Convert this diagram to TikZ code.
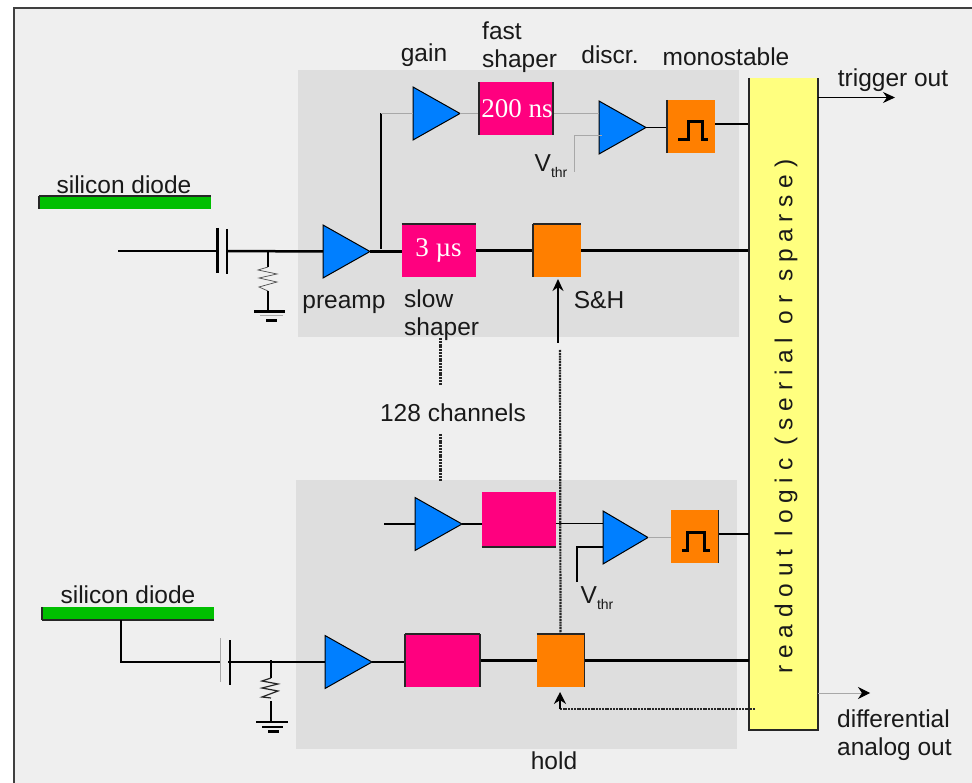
\documentclass[tikz,border=0pt]{standalone}
\usepackage{fontspec}
\setmainfont{Liberation Sans}
\newfontfamily\timesfont{Liberation Serif}
\usetikzlibrary{shapes.geometric, arrows.meta}
\definecolor{Panel}{HTML}{dedede}
\definecolor{Back}{HTML}{efefef}
\definecolor{Frame}{HTML}{404040}
\definecolor{Pink}{HTML}{ff007f}
\definecolor{Orange}{HTML}{ff7f00}
\definecolor{Blue}{HTML}{007fff}
\definecolor{Green}{HTML}{00bf00}
\definecolor{Yellow}{HTML}{ffff7f}
\definecolor{Wire}{HTML}{a8a8a8}

\tikzset{
  label/.style={font=\fontsize{24.5}{28}\selectfont, inner sep=0pt, text=black!90},
  amp/.style={isosceles triangle, isosceles triangle apex angle=60, isosceles triangle stretches,
    minimum width=53pt, minimum height=47pt, inner sep=0pt, outer sep=0pt,
    fill=Blue, draw=black, line width=1pt, anchor=lower side},
  shaper/.style={fill=Pink, minimum width=74pt, minimum height=53pt, inner sep=0pt, outer sep=0pt,
    text=white, font=\timesfont\fontsize{27}{30}\selectfont},
  holdbox/.style={fill=Orange, minimum width=48pt, minimum height=53pt, inner sep=0pt, outer sep=0pt},
  diode/.style={fill=Green, minimum width=172pt, minimum height=13pt, inner sep=0pt, outer sep=0pt},
  thick wire/.style={line width=2.5pt},
  thin wire/.style={line width=1.3pt},
  grey wire/.style={line width=1pt, Wire},
  edge/.style={line width=1.3pt, black!85},
  chan/.style={dash pattern=on 2pt off 0.8pt, line width=2.2pt, black!85},
  pulse/.style={line width=3pt, black}
}

\begin{document}
\begin{tikzpicture}[x=1pt,y=-1pt,>={Stealth[length=12pt,width=11pt]}]
\useasboundingbox (0,0) rectangle (972,783);

\fill[white] (0,0) rectangle (972,783);
\fill[Back] (14,8) rectangle (972,783);
\draw[Frame,line width=2pt] (14,783) -- (14,8) -- (972,8);

\fill[Panel] (298,70) rectangle (739,337);
\fill[Panel] (296,480) rectangle (737,749);

% upper channel
\node[diode] (diode1) at (125,202.5) {};
\node[label] (diode1text) at (124,185) {silicon diode};
\draw[edge] (diode1.north west) -- (diode1.north east);
\draw[edge] (diode1.north west) -- (diode1.south west);

\coordinate (in1) at (118,251);
\coordinate (cap1a) at (217.5,251);
\coordinate (cap1b) at (227,251);
\coordinate (res1a) at (268,251);
\coordinate (gnd1) at (268,311.5);

\node[amp] (pre1) at (323,251.5) {};
\node[shaper] (slow1) at (438.5,250.5) {3 µs};
\node[holdbox] (sh1) at (557,250.5) {};
\node[amp] (gain1) at (413,113.5) {};
\node[shaper] (fast1) at (516,108.5) {\hspace{2pt}200 ns};
\node[amp] (disc1) at (599,127.5) {};
\node[holdbox] (mono1) at (691,126.5) {};
\node[fill=Yellow, minimum width=69pt, minimum height=652pt, inner sep=0pt, outer sep=0pt] (logic) at (783.5,404) {};
\node[label, rotate=90, font=\addfontfeature{LetterSpace=27.7}\fontsize{24.5}{28}\selectfont] (logictext) at (786,416.5) {readout logic (serial or sparse)};

\draw[thin wire] (in1) -- (cap1a);
\draw[line width=3pt] (217.5,228) -- (cap1a) -- (217.5,273);
\draw[line width=1.8pt] (227,229) -- (cap1b) -- (227,274);
\draw[thick wire] (cap1b) -- (pre1.lower side);
\draw[thin wire] (res1a) -- (268,267);
\draw[line width=.7pt,black!70] (268,267) -- (258,270) -- (277,274) -- (259,278) -- (277,282) -- (259,287) -- (268,291);
\draw[thin wire] (268,291) -- (gnd1);
\draw[line width=3pt] (254,311.5) -- (285,311.5);
\draw[grey wire] (260,316) -- (283,316);
\draw[line width=3pt] (266,321) -- (277,321);

\draw[thick wire] (pre1.apex) -- (pre1.apex -| slow1.west);
\draw[thick wire] (slow1.east) -- (sh1.west);
\draw[thick wire] (sh1.east) -- (sh1.east -| logic.west);
\draw[line width=1.8pt] (381,249) -- (381,113.5);
\draw[grey wire] (381,113.5) -- (gain1.lower side);
\draw[grey wire] (gain1.apex) -- (gain1.apex -| fast1.west);
\draw[grey wire] (fast1.east |- gain1.apex) -- (gain1.apex -| disc1.lower side);
\draw[grey wire] (574.5,172) -- (574.5,136) -- (602,136);
\draw[thin wire] (disc1.apex) -- (disc1.apex -| mono1.west);
\draw[thin wire] (mono1.east |- 0,124) -- (logic.west |- 0,124);
\draw[pulse] (678,139.5) -- (688,139.5) -- (688,122) -- (702,122) -- (702,139.5) -- (708,139.5);

\draw[edge] (slow1.north west) -- (slow1.north east);
\draw[edge] (sh1.north west) -- (sh1.north east);
\draw[edge] (sh1.north west) -- (sh1.south west);
\draw[edge] (fast1.north west) -- (fast1.south west);
\draw[edge] (fast1.north east) -- (fast1.south east);
\draw[edge] (mono1.north west) -- (mono1.south west);
\draw[edge] (logic.north west) -- (logic.south west) -- (logic.south east) -- (logic.north east);

\draw[->,thin wire] (logic.east |- 0,97.5) -- (895,97.5);
\draw[->,line width=1.8pt] (558,343) -- (558,279);

% lower channel
\node[diode] (diode2) at (128,613.5) {};
\node[label] (diode2text) at (128,595) {silicon diode};
\draw[edge] (diode2.south west) -- (diode2.south east);
\draw[edge] (diode2.north west) -- (diode2.south west);

\coordinate (cap2a) at (220.5,662);
\coordinate (cap2b) at (230,662);
\coordinate (res2a) at (271,660);
\coordinate (gnd2) at (271,722);

\node[amp] (pre2) at (325,662) {};
\node[shaper, minimum width=75pt] (slow2) at (442.5,660.5) {};
\node[holdbox] (sh2) at (560.5,660.5) {};
\node[amp] (gain2) at (415,524) {};
\node[shaper, minimum height=55pt] (fast2) at (518.5,519.5) {};
\node[amp, minimum height=45pt] (disc2) at (603,537.5) {};
\node[holdbox] (mono2) at (694.5,536.5) {};

\draw[thin wire] (diode2.south -| 121,0) -- (121,662) -- (cap2a);
\draw[grey wire] (220.5,638) -- (220.5,682);
\draw[thin wire] (230,640) -- (230,685);
\draw[thin wire] (228,662) -- (pre2.lower side);
\draw[line width=2.5pt] (res2a) -- (271,678);
\draw[line width=1.2pt,black!85] (271,678) -- (262,681) -- (278,684) -- (262,688) -- (278,691) -- (262,697) -- (271,698);
\draw[thin wire] (271,701) -- (gnd2);
\draw[line width=2pt] (256,722) -- (288,722);
\draw[line width=2.5pt] (262,727) -- (283,727);
\draw[line width=3pt] (268,731) -- (279,731);

\draw[thick wire] (pre2.apex) -- (pre2.apex -| slow2.west);
\draw[thick wire] (slow2.east) -- (sh2.west);
\draw[thick wire] (sh2.east) -- (sh2.east -| logic.west);
\draw[thin wire] (384,524) -- (gain2.lower side);
\draw[thin wire] (gain2.apex) -- (gain2.apex -| fast2.west);
\draw[thin wire] (fast2.east |- 0,523.5) -- (disc2.lower side |- 0,523.5);
\draw[line width=1.5pt] (577,582) -- (577,547) -- (603,547);
\draw[grey wire] (disc2.apex) -- (disc2.apex -| mono2.west);
\draw[thin wire] (mono2.east |- 0,534) -- (logic.west |- 0,534);
\draw[pulse] (682,550) -- (687,550) -- (687,532) -- (704,532) -- (704,550) -- (710,550);

\draw[edge] (slow2.north west) -- (slow2.north east);
\draw[edge] (slow2.north west) -- (slow2.south west);
\draw[edge] (slow2.north east) -- (slow2.south east);
\draw[edge] (sh2.north west) -- (sh2.north east);
\draw[edge] (sh2.north east) -- (sh2.south east);
\draw[edge] (fast2.south west) -- (fast2.south east);
\draw[edge] (mono2.north east) -- (mono2.south east);

% between the channels
\coordinate (chan1) at (440.5,338);
\coordinate (chan2) at (440.5,385);
\coordinate (chan3) at (440.5,434);
\coordinate (chan4) at (440.5,481);
\draw[chan] (chan1) -- (chan2);
\draw[chan] (chan3) -- (chan4);
\draw[chan] (560,350) -- (sh2.north);
\coordinate (holdout) at (755,709);
\draw[chan] (holdout) -- (560,709);
\draw[-{Stealth[length=12pt,width=12pt]},line width=1.5pt] (560,709) -- (560,692);
\draw[grey wire,-{Stealth[length=12pt,width=12pt,black]}] (logic.east |- 0,693) -- (870,693);

% labels
\node[label] (gainlabel) at (424,55) {gain};
\node[label, align=left, anchor=west] (fastlabel) at (482,47) {fast\\shaper};
\node[label] (disclabel) at (610,55) {discr.};
\node[label] (monolabel) at (726,57) {monostable};
\node[label] (triglabel) at (893,80) {trigger out};
\node[label] (prelabel) at (344,304) {preamp};
\node[label, align=left, anchor=west] (slowlabel) at (404,315) {slow\\shaper};
\node[label] (shlabel) at (599,300) {S\&H};
\node[label] (chanlabel) at (453,413) {128 channels};
\node[label] (thr1) at (551,166) {V\raisebox{-6pt}{\fontsize{14}{14}\selectfont thr}};
\node[label] (thr2) at (597,598) {V\raisebox{-6pt}{\fontsize{14}{14}\selectfont thr}};
\node[label] (holdlabel) at (554,761) {hold};
\node[label, align=left, anchor=west] (difflabel) at (837,735) {differential\\analog out};

\end{tikzpicture}
\end{document}
